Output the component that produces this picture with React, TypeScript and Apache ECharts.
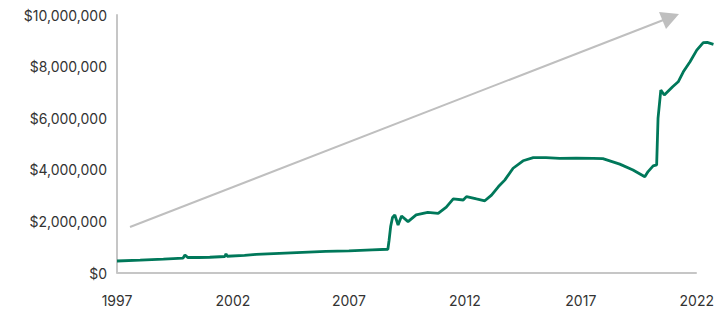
import React, { useEffect, useRef } from "react";
import * as echarts from "echarts";

// Fed balance sheet, $ millions, x = decimal year
const years: number[] = [
  1997.0, 1998.0, 1999.0, 1999.85, 1999.93, 2000.05, 2000.5, 2001.0, 2001.65, 2001.7,
  2001.75, 2002.5, 2003.0, 2004.0, 2005.0, 2006.0, 2007.0, 2008.0, 2008.68, 2008.73,
  2008.8, 2008.88, 2008.98, 2009.12, 2009.27, 2009.55, 2009.9, 2010.4, 2010.85, 2011.2,
  2011.5, 2011.93, 2012.07, 2012.5, 2012.86, 2013.15, 2013.45, 2013.72, 2014.08, 2014.51,
  2014.95, 2015.5, 2016.09, 2016.8, 2017.53, 2017.95, 2018.68, 2019.25, 2019.76, 2019.9,
  2020.12, 2020.27, 2020.33, 2020.45, 2020.6, 2020.96, 2021.2, 2021.42, 2021.71, 2022.0,
  2022.28, 2022.45, 2022.72,
];
const balance: number[] = [
  465000, 500000, 540000, 580000, 700000, 600000, 600000, 610000, 640000, 740000,
  650000, 680000, 720000, 760000, 800000, 840000, 860000, 900000, 920000, 1250000,
  1800000, 2150000, 2250000, 1860000, 2210000, 1990000, 2250000, 2350000, 2310000, 2550000,
  2870000, 2830000, 2960000, 2870000, 2800000, 3020000, 3350000, 3600000, 4060000, 4350000,
  4470000, 4470000, 4440000, 4450000, 4440000, 4430000, 4220000, 3990000, 3730000, 3930000,
  4150000, 4190000, 6000000, 7090000, 6900000, 7220000, 7410000, 7800000, 8190000, 8640000,
  8930000, 8940000, 8860000,
];
const xTicks: number[] = [1997, 2002, 2007, 2012, 2017, 2022];
const xEnd = 2022.7;
const yTicks: number[] = [0, 2000000, 4000000, 6000000, 8000000, 10000000];

export default function App() {
  const ref = useRef<HTMLDivElement>(null);
  useEffect(() => {
    if (!ref.current) return;
    const chart = echarts.init(ref.current, null, { renderer: "svg" });
    const font = "Inter, 'Noto Sans', sans-serif";
    chart.setOption({
      animation: false,
      grid: { left: 117, right: 12, top: 15, bottom: 41 },
      xAxis: {
        type: "value",
        min: xTicks[0],
        max: xEnd,
        interval: 5,
        axisLine: { show: false },
        axisTick: { show: false },
        splitLine: { show: false },
        axisLabel: {
          margin: 20,
          color: "#333333",
          fontSize: 14,
          fontFamily: font,
          showMaxLabel: false,
          formatter: (v: number) => (xTicks.indexOf(v) >= 0 ? String(v) : ""),
        },
      },
      yAxis: {
        type: "value",
        min: yTicks[0],
        max: yTicks[yTicks.length - 1],
        interval: 2000000,
        axisLine: { show: true, lineStyle: { color: "#c6c6c6", width: 2 } },
        axisTick: { show: false },
        splitLine: { show: false },
        axisLabel: {
          margin: 10,
          color: "#333333",
          fontSize: 14,
          fontFamily: font,
          formatter: (v: number) => "$" + v.toLocaleString("en-US"),
        },
      },
      series: [
        {
          type: "line",
          data: years.map((y, i) => [y, balance[i]]),
          showSymbol: false,
          lineStyle: { color: "#00785a", width: 2.8 },
          itemStyle: { color: "#00785a" },
          markLine: {
            silent: true,
            symbol: "none",
            label: { show: false },
            lineStyle: { color: "#c6c6c6", width: 2, type: "solid" },
            data: [
              [
                { coord: [xTicks[0], 0] },
                { coord: [xTicks[xTicks.length - 1], 0] },
              ],
            ],
          },
        },
      ],
      graphic: [
        {
          type: "line",
          shape: { x1: 130, y1: 227, x2: 666, y2: 19 },
          style: { stroke: "#bfbfbf", lineWidth: 2 },
        },
        {
          type: "polygon",
          shape: { points: [[679, 14], [659, 12], [666, 29]] },
          style: { fill: "#bfbfbf" },
        },
      ],
    });
    return () => chart.dispose();
  }, []);
  return <div ref={ref} style={{ width: 725, height: 314, position: "absolute", left: 0, top: 0 }} />;
}
